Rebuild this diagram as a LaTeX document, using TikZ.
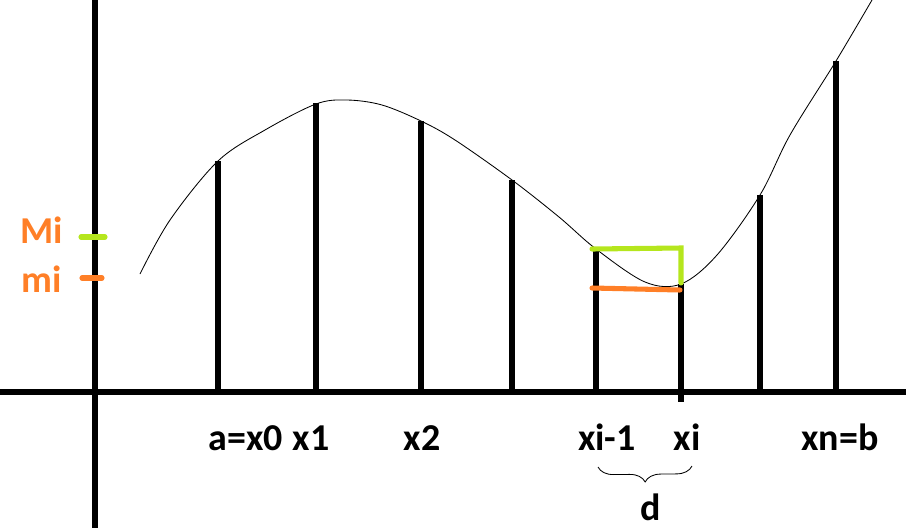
\documentclass[tikz,border=0pt]{standalone}
\usepackage{fontspec}
\setmainfont{Carlito}
\usetikzlibrary{decorations.pathreplacing}

\definecolor{paintlime}{HTML}{B5E61D}
\definecolor{paintorange}{HTML}{FF7F27}

\tikzset{
  bar/.style={line width=3.6pt},
  mark line/.style={line width=3.6pt, line cap=round},
  lbl/.style={font=\fontsize{27}{32}\selectfont\bfseries, anchor=base, inner sep=0pt},
}

\begin{document}
\begin{tikzpicture}[x=0.025cm, y=-0.025cm]
\useasboundingbox (0,0) rectangle (908,528);

\coordinate (ytop) at (95,0);
\coordinate (ybot) at (95,528);
\coordinate (xleft) at (0,392);
\coordinate (xright) at (906,392);

\draw [bar] (ytop) -- (ybot);
\draw [bar] (xleft) -- (xright);

\draw [line width=0.6pt] plot[smooth, tension=.55] coordinates {(140,274) (170,220) (218,161) (265,130) (316,104) (347,100) (382,105) (421,121) (455,140) (512,180) (559,217) (596,249) (645,282) (681,284) (717,255) (760,195) (790,135) (836,61) (872,0)};

\foreach \x/\t/\b [count=\i] in {218/161/392, 316/103/392, 421/121/392, 512/180/392, 596/250/392, 681/284/402, 760/195/392, 836/61/392}
{
  \coordinate (top\i) at (\x,\t);
  \coordinate (bot\i) at (\x,\b);
  \draw [bar] (top\i) -- (bot\i);
}

\coordinate (Mleft) at (592,249);
\coordinate (Mright) at (681,248);
\coordinate (Mdown) at (681,283);
\coordinate (mleft) at (592,288);
\coordinate (mright) at (680,290);

\draw [mark line, paintlime] (Mleft) -- (Mright) -- (Mdown);
\draw [mark line, paintorange] (mleft) -- (mright);

\coordinate (Mtick1) at (81,237);
\coordinate (Mtick2) at (105,237);
\coordinate (mtick1) at (82,278);
\coordinate (mtick2) at (102,278);

\draw [mark line, paintlime] (Mtick1) -- (Mtick2);
\draw [mark line, paintorange] (mtick1) -- (mtick2);

\node [lbl, paintorange] (Mi) at (42,243) {Mi};
\node [lbl, paintorange] (mi) at (42,292) {mi};

\node [lbl] (x0) at (246,450) {a=x0};
\node [lbl] (x1) at (311,450) {x1};
\node [lbl] (x2) at (422,450) {x2};
\node [lbl] (xim1) at (607,450) {xi-1};
\node [lbl] (xi) at (687,450) {xi};
\node [lbl] (xn) at (840,450) {xn=b};

\coordinate (brleft) at (598,467);
\coordinate (brright) at (692,466);
\draw [line width=0.6pt, decorate, decoration={brace, mirror, amplitude=11pt}] (brleft) -- (brright);

\node [lbl] (d) at (651,520) {d};
\end{tikzpicture}
\end{document}
